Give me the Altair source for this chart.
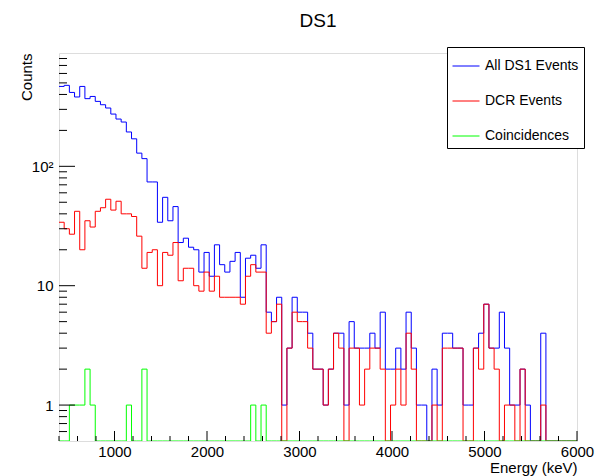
import altair as alt
import pandas as pd

# ---- data: 100 bins of 56 keV from 400 to 6000 keV ----
x_min = 400
x_max = 6000
n_bins = 100

all_events = [467, 477, 416, 381, 467, 369, 385, 350, 328, 308,
              274, 249, 235, 194, 170, 129, 116, 74, 74, 34,
              55, 35, 46, 23, 25, 21, 20, 13, 19, 12,
              22, 15, 13, 16, 19, 8, 17, 18, 14, 22,
              6, 5, 8, 1, 3, 8, 6, 6, 4, 2,
              2, 1, 2, 4, 4, 1, 5, 3, 3, 3,
              4, 3, 6, 2, 2, 3, 2, 6, 3, 1,
              1, 0, 2, 1, 4, 4, 3, 3, 1, 1,
              3, 4, 7, 3, 3, 6, 3, 1, 1, 2,
              1, 0, 0, 4, 0, 0, 0, 0, 0, 0]

dcr_events = [34, 30, 27, 42, 20, 35, 31, 42, 45, 53,
              43, 51, 40, 40, 38, 26, 14, 19, 20, 10,
              19, 18, 23, 11, 14, 14, 10, 9, 13, 9,
              12, 8, 8, 8, 8, 7, 12, 15, 13, 13,
              4, 5, 7, 0, 3, 6, 5, 5, 3, 2,
              2, 1, 2, 4, 3, 0, 3, 3, 1, 2,
              3, 3, 2, 0, 1, 2, 1, 4, 2, 0,
              0, 0, 1, 0, 3, 3, 3, 3, 0, 0,
              3, 2, 7, 3, 2, 0, 1, 1, 0, 2,
              0, 0, 0, 1, 0, 0, 0, 0, 0, 0]

coincidences = [0, 0, 1, 1, 1, 2, 1, 0, 0, 0,
                0, 0, 0, 1, 0, 0, 2, 0, 0, 0,
                0, 0, 0, 0, 0, 0, 0, 0, 0, 0,
                0, 0, 0, 0, 0, 0, 0, 1, 0, 1,
                0, 0, 0, 0, 0, 0, 0, 0, 0, 0,
                0, 0, 0, 0, 0, 0, 0, 0, 0, 0,
                0, 0, 0, 0, 0, 0, 0, 0, 0, 0,
                0, 0, 0, 0, 0, 0, 0, 0, 0, 0,
                0, 0, 0, 0, 0, 0, 0, 0, 0, 0,
                0, 0, 0, 0, 0, 0, 0, 0, 0, 0]

series_names = ["All DS1 Events", "DCR Events", "Coincidences"]
series_colors = ["#0000ff", "#ff0000", "#00ff00"]

x_major = [1000, 2000, 3000, 4000, 5000, 6000]
x_minor = [v for v in range(400, 6001, 200) if v % 1000 != 0]
y_major = [1, 10, 100]
y_minor = [0.6, 0.7, 0.8, 0.9, 2, 3, 4, 5, 6, 7, 8, 9,
           20, 30, 40, 50, 60, 70, 80, 90, 200, 300, 400, 500, 600, 700, 800]
y_min, y_max = 0.5, 890

# ---- build step table ----
bin_w = (x_max - x_min) / n_bins
rows = []
for name, vals in zip(series_names, [all_events, dcr_events, coincidences]):
    for i, v in enumerate(vals):
        rows.append({"edge": x_min + i * bin_w, "count": max(v, y_min), "series": name})
    rows.append({"edge": x_max, "count": max(vals[-1], y_min), "series": name})
df = pd.DataFrame(rows)

W, H = 518, 388
FONT = "Liberation Sans"

xscale = alt.Scale(domain=[x_min, x_max], nice=False, zero=False)
yscale = alt.Scale(type="log", domain=[y_min, y_max], nice=False)
cscale = alt.Scale(domain=series_names, range=series_colors)

x_axis = alt.Axis(values=x_major, format="d", ticks=False, domain=False, grid=False,
                  labelFontSize=15, labelFont=FONT, labelPadding=3, labelColor="black",
                  labelFlush=False,
                  title="Energy (keV)", titleFontSize=15, titleFont=FONT, titleFontWeight="normal",
                  titleAnchor="end", titleAlign="right", titleX=W, titleY=31,
                  titleBaseline="alphabetic", titleColor="black")
y_axis = alt.Axis(values=y_major, ticks=False, domain=False, grid=False,
                  labelExpr="datum.value == 100 ? '10²' : datum.value == 10 ? '10' : '1'",
                  labelFontSize=15, labelFont=FONT, labelPadding=6, labelColor="black",
                  title="Counts", titleFontSize=15, titleFont=FONT, titleFontWeight="normal",
                  titleAngle=270, titleAlign="right", titleX=-28, titleY=0,
                  titleBaseline="alphabetic", titleColor="black")

legend = alt.Legend(orient="none", legendX=388, legendY=-6, title=None,
                    symbolType="stroke", symbolSize=729, symbolStrokeWidth=1,
                    labelFontSize=14, labelFont=FONT, labelColor="black", labelOffset=5,
                    rowPadding=14, padding=5, fillColor="white", strokeColor="black")

layers = []
for k, name in enumerate(series_names):
    layers.append(
        alt.Chart(df).transform_filter(alt.datum.series == name)
        .mark_line(interpolate="step-after", strokeWidth=1, clip=True)
        .encode(
            x=alt.X("edge:Q", scale=xscale, axis=x_axis, title="Energy (keV)"),
            y=alt.Y("count:Q", scale=yscale, axis=y_axis, title="Counts"),
            color=alt.Color("series:N", scale=cscale, legend=legend),
        )
    )

tick_df_x = pd.DataFrame({"edge": x_major + x_minor,
                          "len": [10] * len(x_major) + [5] * len(x_minor)})
tick_df_y = pd.DataFrame({"count": y_major + y_minor,
                          "len": [16] * len(y_major) + [8] * len(y_minor)})

xticks = alt.Chart(tick_df_x).transform_filter("datum.len == 10").mark_rule(
    color="black", strokeWidth=1).encode(
    x=alt.X("edge:Q", scale=xscale, axis=x_axis, title="Energy (keV)"),
    y=alt.value(H), y2=alt.value(H - 10))
xticks_minor = alt.Chart(tick_df_x).transform_filter("datum.len == 5").mark_rule(
    color="black", strokeWidth=1).encode(
    x=alt.X("edge:Q", scale=xscale, axis=x_axis, title="Energy (keV)"),
    y=alt.value(H), y2=alt.value(H - 5))
yticks = alt.Chart(tick_df_y).transform_filter("datum.len == 16").mark_rule(
    color="black", strokeWidth=1).encode(
    y=alt.Y("count:Q", scale=yscale, axis=y_axis, title="Counts"),
    x=alt.value(0), x2=alt.value(16))
yticks_minor = alt.Chart(tick_df_y).transform_filter("datum.len == 8").mark_rule(
    color="black", strokeWidth=1).encode(
    y=alt.Y("count:Q", scale=yscale, axis=y_axis, title="Counts"),
    x=alt.value(0), x2=alt.value(8))

chart = alt.layer(*layers, xticks, xticks_minor, yticks, yticks_minor).properties(
    width=W, height=H,
    title=alt.TitleParams("DS1", fontSize=19, font=FONT, fontWeight="normal",
                          anchor="middle", frame="group", baseline="alphabetic",
                          offset=1, color="black"),
    autosize=alt.AutoSizeParams(type="none"),
    padding={"left": 59, "top": 53, "right": 23, "bottom": 35},
).configure_view(stroke="#333333", strokeWidth=1).configure(background="white")

chart.save("out.html", embed_options={"renderer": "svg", "actions": False})
